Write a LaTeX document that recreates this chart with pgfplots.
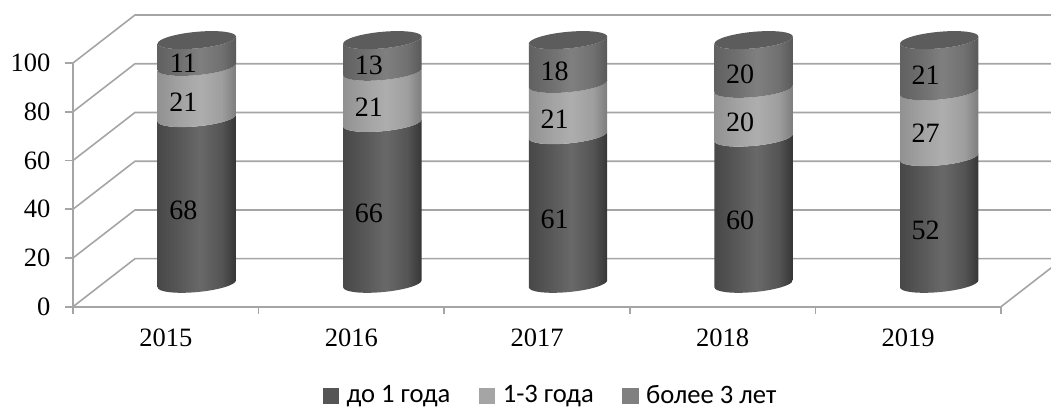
\documentclass[border=0pt]{standalone}
\usepackage{pgfplots}
\pgfplotsset{compat=1.18}
\usepackage{pgfplotstable}
\usepackage{fontspec}
\setmainfont{Liberation Serif}
\newfontfamily\legfont{Carlito}
\definecolor{wall}{RGB}{165,165,165}
\definecolor{legA}{RGB}{85,85,85}
\definecolor{legB}{RGB}{165,165,165}
\definecolor{legC}{RGB}{128,128,128}
\definecolor{capc}{RGB}{92,92,92}
\def\yu{2.437}
\pgfdeclarehorizontalshading{shA}{100bp}{rgb(0bp)=(0.28,0.28,0.28); rgb(25bp)=(0.28,0.28,0.28); rgb(40bp)=(0.35,0.35,0.35); rgb(52bp)=(0.41,0.41,0.41); rgb(66bp)=(0.33,0.33,0.33); rgb(75bp)=(0.21,0.21,0.21); rgb(100bp)=(0.21,0.21,0.21)}
\pgfdeclarehorizontalshading{shB}{100bp}{rgb(0bp)=(0.57,0.57,0.57); rgb(25bp)=(0.57,0.57,0.57); rgb(40bp)=(0.64,0.64,0.64); rgb(52bp)=(0.68,0.68,0.68); rgb(66bp)=(0.62,0.62,0.62); rgb(75bp)=(0.49,0.49,0.49); rgb(100bp)=(0.49,0.49,0.49)}
\pgfdeclarehorizontalshading{shC}{100bp}{rgb(0bp)=(0.38,0.38,0.38); rgb(25bp)=(0.38,0.38,0.38); rgb(40bp)=(0.44,0.44,0.44); rgb(52bp)=(0.50,0.50,0.50); rgb(66bp)=(0.44,0.44,0.44); rgb(75bp)=(0.35,0.35,0.35); rgb(100bp)=(0.35,0.35,0.35)}
\newcommand\declseg[2]{\pgfdeclareplotmark{#1}{%
  \pgfscope
  \pgftransformshift{\pgfpoint{31pt}{22.9pt}}%
  \pgfpathmoveto{\pgfpoint{-39.2pt}{-3.5pt}}%
  \pgfpathcurveto{\pgfpoint{-39.2pt}{-8.084pt}}{\pgfpoint{-21.65pt}{-10.233pt}}{\pgfpoint{0pt}{-8.3pt}}%
  \pgfpathcurveto{\pgfpoint{21.65pt}{-6.367pt}}{\pgfpoint{39.2pt}{-1.084pt}}{\pgfpoint{39.2pt}{3.5pt}}%
  \pgfpathlineto{\pgfpoint{39.2pt}{\segH pt+3.5pt}}%
  \pgfpathcurveto{\pgfpoint{39.2pt}{\segH pt-1.084pt}}{\pgfpoint{21.65pt}{\segH pt-6.367pt}}{\pgfpoint{0pt}{\segH pt-8.3pt}}%
  \pgfpathcurveto{\pgfpoint{-21.65pt}{\segH pt-10.233pt}}{\pgfpoint{-39.2pt}{\segH pt-8.084pt}}{\pgfpoint{-39.2pt}{\segH pt-3.5pt}}%
  \pgfpathclose
  \pgfshadepath{#2}{0}%
  \pgfusepath{discard}%
  \endpgfscope}}
\declseg{segA}{shA}
\declseg{segB}{shB}
\declseg{segC}{shC}
\pgfdeclareplotmark{capm}{%
  \pgfscope
  \pgftransformshift{\pgfpoint{31pt}{22.9pt}}%
  \pgfsetfillcolor{capc}%
  \pgfpathmoveto{\pgfpoint{-39.2pt}{-3.5pt}}%
  \pgfpathcurveto{\pgfpoint{-39.2pt}{-8.084pt}}{\pgfpoint{-21.65pt}{-10.233pt}}{\pgfpoint{0pt}{-8.3pt}}%
  \pgfpathcurveto{\pgfpoint{21.65pt}{-6.367pt}}{\pgfpoint{39.2pt}{-1.084pt}}{\pgfpoint{39.2pt}{3.5pt}}%
  \pgfpathcurveto{\pgfpoint{39.2pt}{8.084pt}}{\pgfpoint{21.65pt}{10.233pt}}{\pgfpoint{0pt}{8.3pt}}%
  \pgfpathcurveto{\pgfpoint{-21.65pt}{6.367pt}}{\pgfpoint{-39.2pt}{1.084pt}}{\pgfpoint{-39.2pt}{-3.5pt}}%
  \pgfpathclose
  \pgfusepath{fill}%
  \endpgfscope}
\pgfplotstableread{
x base h
0 0 68
1 0 66
2 0 61
3 0 60
4 0 52
}\tblA
\pgfplotstableread{
x base h
0 68 21
1 66 21
2 61 21
3 60 20
4 52 27
}\tblB
\pgfplotstableread{
x base h
0 89 11
1 87 13
2 82 18
3 80 20
4 79 21
}\tblC
\pgfplotsset{
  seg/.style={scatter,only marks,mark=#1,point meta=explicit symbolic,
    scatter/@pre marker code/.code={\pgfmathsetmacro\segH{\pgfplotspointmeta*\yu}\scope},
    scatter/@post marker code/.code={\endscope}},
  lab/.style={draw=none,mark=none,forget plot,point meta=explicit symbolic,nodes near coords,
    every node near coord/.append style={anchor=center,inner sep=0pt,xshift=17.5pt,yshift=13.4pt,
      font=\fontsize{28}{28}\selectfont}},
  sq/.style={legend image code/.code={\fill[#1] (0pt,-8.7pt) rectangle (15.5pt,6.8pt); \path (0pt,0pt) (21.5pt,0pt);}},
  grd/.style={wall,line width=1.6pt,forget plot}
}
\begin{document}
\begin{tikzpicture}
\useasboundingbox (-73pt,-100.3pt) rectangle (978pt,306.7pt);
\clip (-73pt,-100.3pt) rectangle (978pt,306.7pt);
\begin{axis}[
  at={(0,0)},anchor=south west,
  x=185.6pt,y=\yu pt,
  xmin=-0.5,xmax=4.5,ymin=0,ymax=100,
  clip=false,
  axis x line=bottom,axis y line=left,
  axis line style={-,wall,line width=1.6pt},
  every tick/.style={wall,line width=1.6pt},
  tick align=outside,major tick length=7.5pt,
  xtick={-0.5,0.5,1.5,2.5,3.5,4.5},
  x tick label as interval,
  xticklabels={2015,2016,2017,2018,2019},
  ytick={0,20,40,60,80,100},
  minor tick num=0,
  tick label style={font=\fontsize{26.5}{27}\selectfont,/pgf/number format/assume math mode=true,black},
  xticklabel style={yshift=-11.5pt},
  yticklabel style={xshift=-11.5pt},
  legend columns=3,
  legend style={draw=none,fill=none,at={(axis description cs:0.269,-0.362)},anchor=west,
    font=\legfont\fontsize{26.6}{27}\selectfont,
    /tikz/every even column/.append style={column sep=26.5pt},
    inner sep=0pt,outer sep=0pt},
]
\addplot[grd] coordinates {(-0.5,0) (-0.166,19.7) (4.9,19.7)};
\addplot[grd] coordinates {(-0.5,20) (-0.166,39.7) (4.9,39.7)};
\addplot[grd] coordinates {(-0.5,40) (-0.166,59.7) (4.9,59.7)};
\addplot[grd] coordinates {(-0.5,60) (-0.166,79.7) (4.9,79.7)};
\addplot[grd] coordinates {(-0.5,80) (-0.166,99.7) (4.9,99.7)};
\addplot[grd] coordinates {(-0.5,100) (-0.166,119.7) (4.9,119.7)};
\addplot[grd] coordinates {(4.5,0) (4.834,19.7)};
\addplot[seg=segA,sq=legA] table[x=x,y=base,meta=h] {\tblA};
\addlegendentry{до 1 года}
\addplot[seg=segB,sq=legB] table[x=x,y=base,meta=h] {\tblB};
\addlegendentry{1-3 года}
\addplot[seg=segC,sq=legC] table[x=x,y=base,meta=h] {\tblC};
\addlegendentry{более 3 лет}
\addplot[only marks,mark=capm,forget plot] coordinates {(0,100) (1,100) (2,100) (3,100) (4,100)};
\addplot[lab] table[x=x,y expr=\thisrow{base}+\thisrow{h}/2,meta=h] {\tblA};
\addplot[lab] table[x=x,y expr=\thisrow{base}+\thisrow{h}/2,meta=h] {\tblB};
\addplot[lab] table[x=x,y expr=\thisrow{base}+\thisrow{h}/2,meta=h] {\tblC};
\end{axis}
\end{tikzpicture}
\end{document}
